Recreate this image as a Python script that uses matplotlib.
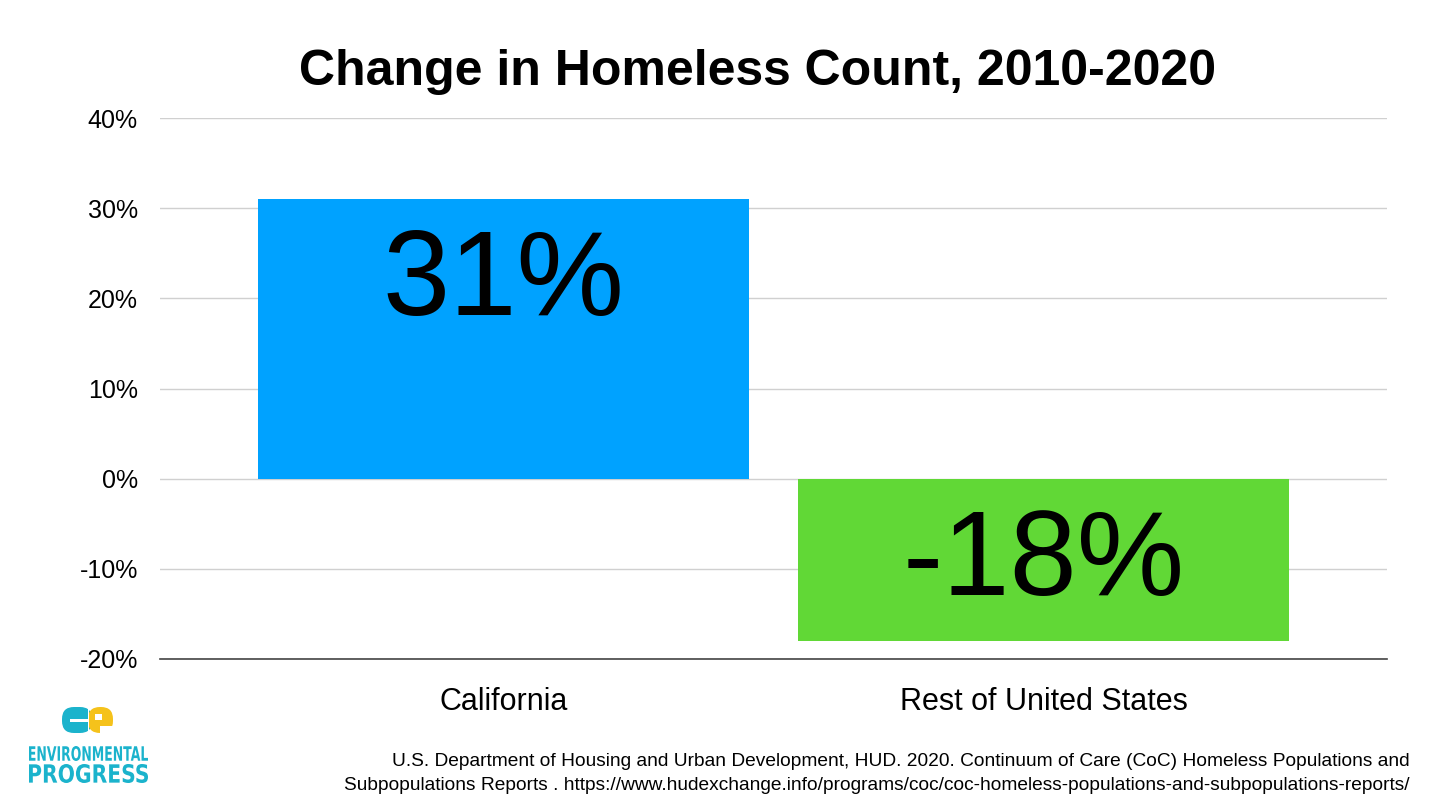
import matplotlib
matplotlib.use('Agg')
import matplotlib.pyplot as plt
from matplotlib.font_manager import FontProperties, findfont
from matplotlib.textpath import TextPath
from matplotlib.patches import PathPatch, FancyBboxPatch, Rectangle
from matplotlib.transforms import Affine2D

# data
categories = ['California', 'Rest of United States']
changes = [31, -18]
bar_colors = ['#00A2FF', '#61D836']
yticks = [-20, -10, 0, 10, 20, 30, 40]
title = 'Change in Homeless Count, 2010-2020'
source_lines = [
    'U.S. Department of Housing and Urban Development, HUD. 2020. Continuum of Care (CoC) Homeless Populations and',
    'Subpopulations Reports . https://www.hudexchange.info/programs/coc/coc-homeless-populations-and-subpopulations-reports/',
]

plt.rcParams['font.family'] = ['Liberation Sans', 'DejaVu Sans']

W, H = 1456, 811
fig = plt.figure(figsize=(W / 100, H / 100), dpi=100)
# axes placed in pixel terms of the reference
ax = fig.add_axes([160 / W, 1 - 659 / H, (1387 - 160) / W, (659 - 118) / H])

x = range(len(categories))
ax.bar(x, changes, width=0.91, color=bar_colors, zorder=2)
ax.set_xlim(-0.636, 1.636)
ax.set_ylim(-20, 40)
ax.set_yticks(yticks)
ax.set_yticklabels([f'{t}%' for t in yticks], fontsize=18)
ax.set_xticks(list(x))
ax.set_xticklabels(categories, fontsize=22)
ax.tick_params(axis='y', length=0, pad=16)
ax.tick_params(axis='x', length=0, pad=20)
ax.grid(axis='y', color='#d0d0d0', linewidth=1, zorder=0)
for s in ['left', 'right', 'top']:
    ax.spines[s].set_visible(False)
ax.spines['bottom'].set_color('#444444')
ax.spines['bottom'].set_linewidth(1.2)
ax.spines['bottom'].set_zorder(3)

# big value labels inside the bars
for i, v in enumerate(changes):
    if v > 0:
        ax.annotate(f'{v}%', (i, v), xytext=(0, -83.5), textcoords='offset points',
                    ha='center', va='baseline', fontsize=87, zorder=4)
    else:
        ax.annotate(f'{v}%', (i, v), xytext=(0, 33), textcoords='offset points',
                    ha='center', va='baseline', fontsize=87, zorder=4)

fig.text(757 / W, 1 - 85 / H, title, ha='center', va='baseline',
         fontsize=36, fontweight='bold')

# source note, condensed font if there is one
narrow = FontProperties(family='Liberation Sans Narrow')
if 'Narrow' in findfont(narrow, fallback_to_default=True):
    src_font, src_size = 'Liberation Sans Narrow', 15.5
else:
    src_font, src_size = 'Liberation Sans', 13.8
fig.text(1410 / W, 1 - 766 / H, source_lines[0], ha='right', va='baseline',
         fontsize=src_size, family=src_font)
fig.text(1410 / W, 1 - 790 / H, source_lines[1], ha='right', va='baseline',
         fontsize=src_size, family=src_font)


# logo
def fit_text(s, x0, y0, x1, y1, color):
    tp = TextPath((0, 0), s, size=10, prop=FontProperties(family='DejaVu Sans', weight='bold'))
    ext = tp.get_extents()
    sx = (x1 - x0) / W / ext.width
    sy = (y1 - y0) / H / ext.height
    tr = Affine2D().translate(-ext.x0, -ext.y0).scale(sx, sy).translate(x0 / W, 1 - y1 / H)
    fig.patches.append(PathPatch(tr.transform_path(tp), color=color, lw=0,
                                 transform=fig.transFigure))


teal = '#1BB3CC'
yellow = '#F5C21B'
fit_text('ENVIRONMENTAL', 29, 746, 148, 761, teal)
fit_text('PROGRESS', 29, 764, 148, 783, teal)

# logo mark in its own pixel-unit axes
lax = fig.add_axes([55 / W, 1 - 740 / H, 65 / W, 40 / H])
lax.set_xlim(55, 120)
lax.set_ylim(740, 700)
lax.axis('off')
lax.add_patch(FancyBboxPatch((62, 707), 30, 26, boxstyle='round,pad=0,rounding_size=12',
                             color=teal, lw=0))
lax.add_patch(FancyBboxPatch((88, 707), 25, 26, boxstyle='round,pad=0,rounding_size=12',
                             color=yellow, lw=0))
lax.add_patch(Rectangle((70, 718.5), 18, 3, color='white', lw=0))
lax.add_patch(Rectangle((88, 707), 1.2, 26, color='white', lw=0))
lax.add_patch(Rectangle((95, 714), 7, 6, color='white', lw=0))
lax.add_patch(Rectangle((100, 726), 13, 7, color='white', lw=0))

fig.savefig('out.png', dpi=100, facecolor='white')
